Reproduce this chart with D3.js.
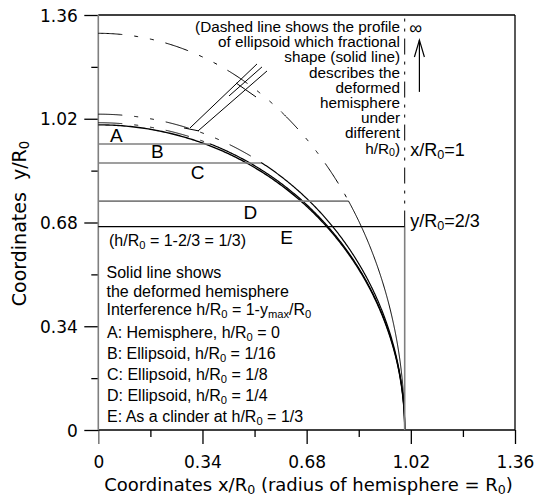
<!DOCTYPE html>
<html><head><meta charset="utf-8">
<script src="https://cdn.jsdelivr.net/npm/d3@7/dist/d3.min.js"></script>
<style>
body{margin:0;background:#fff}
svg{display:block}
text{white-space:pre}
</style></head>
<body><svg id="chart" width="535" height="499"></svg>
<script>
// ---- data -------------------------------------------------------------
// Deformed hemisphere profiles A..E: flat top height y_max/R0 and the
// y semi-axis of the ellipsoid (x semi-axis = R0) whose fraction forms the side.
const profileNames   = ["A", "B", "C", "D", "E"];
const profileTop     = [1.0, 0.9375, 0.875, 0.75, 0.6667];
const ellipsoidAxis  = [1.0, 1.007, 1.035, 1.30, null];   // null: cylinder (infinite axis)
const interference   = ["0", "1/16", "1/8", "1/4", "1/3"];
const profileKind    = ["Hemisphere,", "Ellipsoid,", "Ellipsoid,", "Ellipsoid,", "As a clinder at"];

const xTicks      = [0, 0.34, 0.68, 1.02, 1.36];
const xMinorTicks = [0.17, 0.51, 0.85, 1.19];
const yTicks      = [0, 0.34, 0.68, 1.02, 1.36];
const yMinorTicks = [0.17, 0.51, 0.85, 1.19];
const tickLabels  = ["0", "0.34", "0.68", "1.02", "1.36"];

const noteLines = [
  "(Dashed line shows the profile",
  "of ellipsoid which fractional",
  "shape (solid line)",
  "describes the",
  "deformed",
  "hemisphere",
  "under",
  "different",
  "h/R_{0})"
];
const legendHead = ["Solid line shows", "the deformed hemisphere", "Interference h/R_{0} = 1-y_{max}/R_{0}"];

// ---- layout -------------------------------------------------------------
const W = 535, H = 499;
const margin = {left: 98.3, top: 15, right: 20, bottom: 69};
const x = d3.scaleLinear().domain([0, 1.36]).range([margin.left, W - margin.right]);
const y = d3.scaleLinear().domain([0, 1.36]).range([H - margin.bottom, margin.top]);

const svg = d3.select("#chart");
const AXIS_FONT = "'DejaVu Sans', sans-serif";
const TEXT_FONT = "'Liberation Sans', Arial, sans-serif";
const GREY = "#7f7f7f";

// text with _{...} subscripts
function rich(sel, str, size) {
  const parts = str.split(/_\{([^}]*)\}/);
  let shift = 0;
  parts.forEach((t, i) => {
    if (!t) return;
    const sub = i % 2 === 1;
    const target = sub ? size * 0.16 : 0;
    const ts = sel.append("tspan").text(t).attr("dy", target - shift);
    if (sub) ts.attr("font-size", size * 0.7);
    shift = target;
  });
  return sel;
}

// ---- axes -------------------------------------------------------------
const fmt = d => tickLabels[xTicks.indexOf(d)];
const gxMinor = svg.append("g").attr("transform", `translate(0,${y(0)})`)
  .call(d3.axisBottom(x).tickValues(xMinorTicks).tickSize(7).tickSizeOuter(0).tickFormat(""));
const gx = svg.append("g").attr("transform", `translate(0,${y(0)})`)
  .call(d3.axisBottom(x).tickValues(xTicks).tickSize(14).tickSizeOuter(0).tickFormat(fmt));
const gyMinor = svg.append("g").attr("transform", `translate(${x(0)},0)`)
  .call(d3.axisLeft(y).tickValues(yMinorTicks).tickSize(7).tickSizeOuter(0).tickFormat(""));
const gy = svg.append("g").attr("transform", `translate(${x(0)},0)`)
  .call(d3.axisLeft(y).tickValues(yTicks).tickSize(14).tickSizeOuter(0).tickFormat(fmt));

[gx, gxMinor, gy, gyMinor].forEach(g => {
  g.select(".domain").remove();
  g.selectAll(".tick line").attr("stroke", "#000").attr("stroke-width", 1.3);
});
gx.selectAll(".tick text").attr("y", 38).attr("dy", 0)
  .attr("font-family", AXIS_FONT).attr("font-size", 17).attr("fill", "#000");
gy.selectAll(".tick text").attr("x", -20.5).attr("dy", "0.36em")
  .attr("font-family", AXIS_FONT).attr("font-size", 17).attr("fill", "#000");
// the zero tick below the origin continues the grey x = 0 line
gx.selectAll(".tick").filter(d => d === 0).select("line").attr("stroke", GREY).attr("stroke-width", 1.6);

// frame
svg.append("line").attr("x1", x(0)).attr("x2", x(1.36)).attr("y1", y(1.36)).attr("y2", y(1.36))
  .attr("stroke", "#000").attr("stroke-width", 1.3);
svg.append("line").attr("x1", x(1.36)).attr("x2", x(1.36)).attr("y1", y(0)).attr("y2", y(1.36))
  .attr("stroke", "#000").attr("stroke-width", 1.3);
svg.append("line").attr("x1", x(0)).attr("x2", x(1.36)).attr("y1", y(0)).attr("y2", y(0))
  .attr("stroke", "#000").attr("stroke-width", 1.3);
svg.append("line").attr("x1", x(0)).attr("x2", x(0)).attr("y1", y(0)).attr("y2", y(1.36))
  .attr("stroke", GREY).attr("stroke-width", 1.6);

// axis titles
rich(svg.append("text").attr("x", 308.5).attr("y", 491).attr("text-anchor", "middle")
  .attr("font-family", AXIS_FONT).attr("font-size", 18),
  "Coordinates x/R_{0} (radius of hemisphere = R_{0})", 18);
rich(svg.append("text").attr("transform", "translate(25.5,223.5) rotate(-90)").attr("text-anchor", "middle")
  .attr("font-family", AXIS_FONT).attr("font-size", 19),
  "Coordinates  y/R_{0}", 19);

// ---- profiles -----------------------------------------------------------
const line = d3.line().x(d => x(d[0])).y(d => y(d[1]));
// quarter-ellipse arc x = cos t, y = b sin t between angles t0 and t1
function arc(b, t0, t1) {
  const n = 240, pts = [];
  for (let i = 0; i <= n; i++) {
    const t = t0 + (t1 - t0) * i / n;
    pts.push([Math.cos(t), b * Math.sin(t)]);
  }
  return pts;
}

const plot = svg.append("g");
profileNames.forEach((name, i) => {
  const top = profileTop[i], b = ellipsoidAxis[i];
  if (b === null) {
    // cylinder: flat top to x = R0, then vertical side
    plot.append("path").attr("d", line([[1, 0], [1, top]]))
      .attr("fill", "none").attr("stroke", GREY).attr("stroke-width", 1.6);
    plot.append("path").attr("d", line([[0, top], [1, top]]))
      .attr("fill", "none").attr("stroke", "#000").attr("stroke-width", 1.3);
    // limiting profile x/R0 = 1
    plot.append("path").attr("d", line([[1, top], [1, 1.36]]))
      .attr("fill", "none").attr("stroke", "#000").attr("stroke-width", 1)
      .attr("stroke-dasharray", "16,7,3,7,3,7");
    return;
  }
  if (i === 0) {
    plot.append("path").attr("d", line(arc(b, Math.PI / 2, 0)))
      .attr("fill", "none").attr("stroke", "#000").attr("stroke-width", 1.4);
    return;
  }
  const tc = Math.asin(top / b), xc = Math.cos(tc);
  // flat top
  plot.append("path").attr("d", line([[0, top], [xc, top]]))
    .attr("fill", "none").attr("stroke", GREY).attr("stroke-width", 1.6);
  // ellipsoid part above the cut (dash-dot)
  plot.append("path").attr("d", line(arc(b, Math.PI / 2, tc)))
    .attr("fill", "none").attr("stroke", "#000").attr("stroke-width", 1)
    .attr("stroke-dasharray", "24,12,4,12,4,12");
  // solid side of the deformed shape
  plot.append("path").attr("d", line(arc(b, tc, 0)))
    .attr("fill", "none").attr("stroke", "#000").attr("stroke-width", i === 3 ? 1 : 1.2);
});

// pointer marks near the top of the near-hemisphere profiles
const pointerSegs = [
  [[0.2993, 0.9898], [0.5180, 1.1996]],
  [[0.3254, 0.9800], [0.5506, 1.1766]],
  [[0.4266, 1.0947], [0.5342, 1.1898]],
  [[0.4494, 1.1373], [0.5147, 1.0914]],
  [[0.2797, 0.9898], [0.3287, 0.9800]]
];
pointerSegs.forEach(s => plot.append("path").attr("d", line(s))
  .attr("fill", "none").attr("stroke", "#000").attr("stroke-width", 1));

// ---- labels -------------------------------------------------------------
const letterPos = [[0.0382, 0.9449], [0.1720, 0.8906], [0.3016, 0.8217], [0.4738, 0.6922], [0.5940, 0.6085]];
profileNames.forEach((n, i) => {
  svg.append("text").attr("x", x(letterPos[i][0])).attr("y", y(letterPos[i][1]))
    .attr("font-family", TEXT_FONT).attr("font-size", 19).text(n);
});

rich(svg.append("text").attr("x", 109).attr("y", 246)
  .attr("font-family", TEXT_FONT).attr("font-size", 16),
  "(h/R_{0} = 1-2/3 = 1/3)", 16);

const headY = [277.5, 296.5, 315];
legendHead.forEach((t, i) => rich(svg.append("text").attr("x", 106.5).attr("y", headY[i])
  .attr("font-family", TEXT_FONT).attr("font-size", 16), t, 16));
profileNames.forEach((n, i) => {
  rich(svg.append("text").attr("x", 107).attr("y", 338 + i * 21)
    .attr("font-family", TEXT_FONT).attr("font-size", 16),
    `${n}: ${profileKind[i]} h/R_{0} = ${interference[i]}`, 16);
});

noteLines.forEach((t, i) => rich(svg.append("text").attr("x", 400).attr("y", 32 + i * 15.2)
  .attr("text-anchor", "end").attr("font-family", TEXT_FONT).attr("font-size", 15.3), t, 15.3));

svg.append("text").attr("x", x(1) + 4.5).attr("y", 34)
  .attr("font-family", TEXT_FONT).attr("font-size", 18).text("\u221E");
// arrow towards infinity
const ax = 1.048;
plot.append("path").attr("d", line([[ax, 1.108], [ax, 1.278]]))
  .attr("fill", "none").attr("stroke", "#000").attr("stroke-width", 1.2);
plot.append("path").attr("d", d3.line()([[x(ax) - 5, y(1.278) + 17], [x(ax), y(1.278)], [x(ax) + 5, y(1.278) + 17]]))
  .attr("fill", "none").attr("stroke", "#000").attr("stroke-width", 1.2);

rich(svg.append("text").attr("x", x(1) + 5.5).attr("y", 156)
  .attr("font-family", TEXT_FONT).attr("font-size", 18), "x/R_{0}=1", 18);
rich(svg.append("text").attr("x", x(1) + 5.5).attr("y", y(2 / 3) + 0.5)
  .attr("font-family", TEXT_FONT).attr("font-size", 18), "y/R_{0}=2/3", 18);
</script>
</body></html>
